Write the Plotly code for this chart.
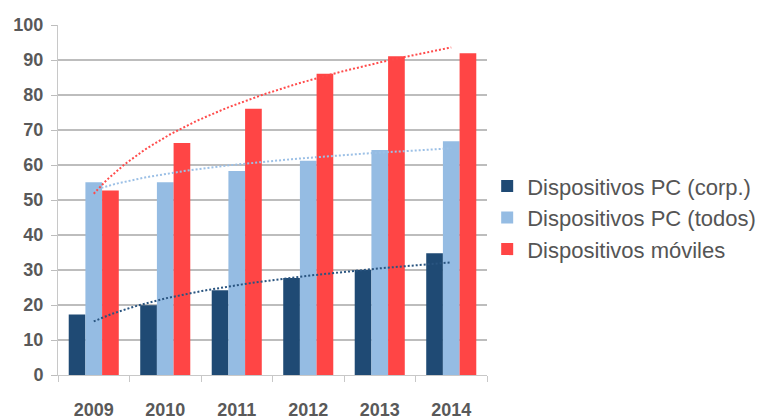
import numpy as np
import plotly.graph_objects as go

years = ["2009", "2010", "2011", "2012", "2013", "2014"]
pc_corp = [17.3, 19.9, 24.2, 27.7, 30.0, 34.8]
pc_todos = [55.1, 55.1, 58.3, 61.2, 64.3, 66.8]
moviles = [52.7, 66.3, 76.1, 86.1, 91.1, 91.9]

names = ["Dispositivos PC (corp.)", "Dispositivos PC (todos)", "Dispositivos móviles"]
series = [pc_corp, pc_todos, moviles]
colors = ["#1F4A74", "#95BCE3", "#FF4545"]
trend_colors = ["#2A5580", "#9CC0E6", "#FF4B4B"]

fig = go.Figure()
for n, s, c in zip(names, series, colors):
    fig.add_trace(go.Bar(x=years, y=s, name=n, marker=dict(color=c, line=dict(width=0))))

# logarithmic trendlines (fitted from the data)
idx = np.arange(1, len(years) + 1)
xs = np.linspace(1, len(years), 120)
for s, c in zip(series, trend_colors):
    b, a = np.polyfit(np.log(idx), np.array(s), 1)
    fig.add_trace(go.Scatter(x=xs - 1, y=a + b * np.log(xs), mode="lines", xaxis="x2",
                             line=dict(color=c, width=2, dash="2px,2px"),
                             showlegend=False, hoverinfo="skip"))

tick_font = dict(family="Liberation Sans, Arial", size=18, color="#595959", weight="bold")
# the page body adds an 8px offset, so the figure is 760x411 and margins are compensated
fig.update_layout(
    width=760, height=411,
    margin=dict(l=50, r=281, t=17, b=44),
    paper_bgcolor="white", plot_bgcolor="white",
    barmode="group", bargap=0.3, bargroupgap=0,
    xaxis=dict(type="category", showgrid=False, showline=True, linecolor="#C8C8C8", linewidth=1,
               ticks="outside", tickson="boundaries", ticklen=6, tickcolor="#C8C8C8",
               tickfont=tick_font, ticklabelstandoff=18, range=[-0.5, 5.5], automargin=False),
    xaxis2=dict(overlaying="x", range=[-0.5, 5.5], visible=False),
    yaxis=dict(range=[0, 100], dtick=10, showgrid=True, gridcolor="#BDBDBD", gridwidth=1.5,
               showline=True, linecolor="#C8C8C8", linewidth=1, zeroline=False,
               ticks="outside", ticklen=6, tickcolor="#BDBDBD", tickfont=tick_font,
               ticklabelstandoff=4, automargin=False),
    legend=dict(xref="container", yref="container", x=0.6305, y=0.49,
                xanchor="left", yanchor="middle",
                font=dict(family="Liberation Sans, Arial", size=22, color="#555555"),
                tracegroupgap=0, itemwidth=30, bgcolor="rgba(0,0,0,0)"),
)

fig.write_html("out.html")
